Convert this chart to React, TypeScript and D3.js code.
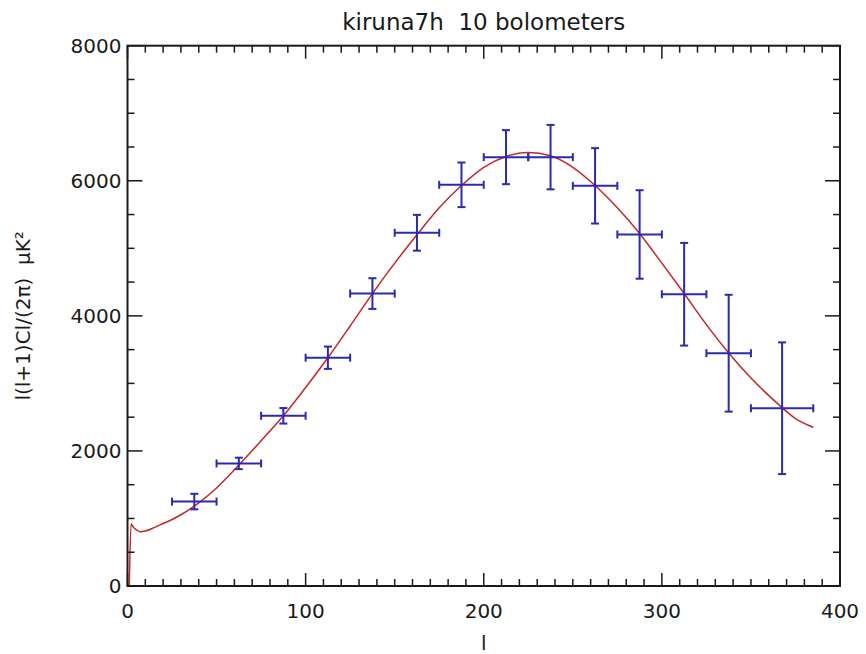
import * as d3 from 'd3'

// binned band powers
const binLo = [25, 50, 75, 100, 125, 150, 175, 200, 225, 250, 275, 300, 325, 350]
const binHi = [50, 75, 100, 125, 150, 175, 200, 225, 250, 275, 300, 325, 350, 385]
const bandPower = [1250, 1815, 2520, 3380, 4330, 5230, 5940, 6350, 6350, 5925, 5205, 4320, 3447, 2632]
const bandError = [115, 85, 115, 165, 227, 265, 330, 400, 477, 558, 655, 760, 865, 975]

// model spectrum
const modelL = [1, 2, 3, 5, 7, 10, 15, 20, 25, 30, 40, 50, 60, 75, 87.5, 100, 112.5, 125, 137.5, 150, 162.5, 175, 187.5, 200, 212.5, 225, 237.5, 250, 262.5, 275, 287.5, 300, 312.5, 325, 337.5, 350, 362.5, 375, 385]
const modelCl = [0, 920, 880, 830, 805, 815, 865, 925, 985, 1055, 1230, 1450, 1720, 2150, 2520, 2940, 3380, 3850, 4330, 4780, 5200, 5600, 5930, 6200, 6360, 6420, 6370, 6200, 5930, 5600, 5220, 4780, 4330, 3870, 3450, 3080, 2760, 2480, 2350]

const xTicks = [0, 100, 200, 300, 400]
const yTicks = [0, 2000, 4000, 6000, 8000]

const W = 866
const H = 654
const left = 127.5, right = 840, top = 45.7, bottom = 586

export default function App() {
  const x = d3.scaleLinear().domain([0, 400]).range([left, right])
  const y = d3.scaleLinear().domain([0, 8000]).range([bottom, top])

  const line = d3.line<number>()
    .x((_, i) => x(modelL[i]))
    .y(d => y(d))
    .curve(d3.curveMonotoneX)

  const xMinor = d3.range(0, 401, 10)
  const yMinor = d3.range(0, 8001, 500)
  const font = 'DejaVu Sans, sans-serif'
  const ink = '#1a1a1a'
  const blue = '#2a2ab0'
  const cap = 4

  return (
    <svg width={W} height={H} style={{ position: 'absolute', left: 0, top: 0, background: '#fff' }}>
      <text x={(left + right) / 2} y={30} textAnchor="middle" fontFamily={font} fontSize={23} fill={ink} style={{ whiteSpace: 'pre' }}>
        {'kiruna7h  10 bolometers'}
      </text>

      {/* model curve */}
      <path d={line(modelCl) || ''} fill="none" stroke="#c0282c" strokeWidth={1.5} />

      {/* band powers with error bars */}
      {bandPower.map((v, i) => {
        const cx = x((binLo[i] + binHi[i]) / 2)
        const cy = y(v)
        const x0 = x(binLo[i]), x1 = x(binHi[i])
        const y0 = y(v - bandError[i]), y1 = y(v + bandError[i])
        return (
          <g key={i} stroke={blue} strokeWidth={2} fill="none">
            <line x1={x0} x2={x1} y1={cy} y2={cy} />
            <line x1={x0} x2={x0} y1={cy - cap} y2={cy + cap} />
            <line x1={x1} x2={x1} y1={cy - cap} y2={cy + cap} />
            <line x1={cx} x2={cx} y1={y0} y2={y1} />
            <line x1={cx - cap} x2={cx + cap} y1={y0} y2={y0} />
            <line x1={cx - cap} x2={cx + cap} y1={y1} y2={y1} />
          </g>
        )
      })}

      {/* frame */}
      <rect x={left} y={top} width={right - left} height={bottom - top} fill="none" stroke={ink} strokeWidth={2} />

      {/* x ticks, bottom and top, pointing inward */}
      {xMinor.map(t => {
        const len = t % 100 === 0 ? 13 : 7
        return (
          <g key={'x' + t} stroke={ink} strokeWidth={1.5}>
            <line x1={x(t)} x2={x(t)} y1={bottom} y2={bottom - len} />
            <line x1={x(t)} x2={x(t)} y1={top} y2={top + len} />
          </g>
        )
      })}
      {yMinor.map(t => {
        const len = t % 2000 === 0 ? 15 : 7
        return (
          <g key={'y' + t} stroke={ink} strokeWidth={1.5}>
            <line x1={left} x2={left + len} y1={y(t)} y2={y(t)} />
            <line x1={right} x2={right - len} y1={y(t)} y2={y(t)} />
          </g>
        )
      })}

      {xTicks.map(t => (
        <text key={'xl' + t} x={x(t)} y={bottom + 32} textAnchor="middle" fontFamily={font} fontSize={20} fill={ink}>
          {t}
        </text>
      ))}
      {yTicks.map(t => (
        <text key={'yl' + t} x={left - 6} y={y(t) + 7} textAnchor="end" fontFamily={font} fontSize={20} fill={ink}>
          {t}
        </text>
      ))}

      <text x={(left + right) / 2} y={650} textAnchor="middle" fontFamily={font} fontSize={20} fill={ink}>l</text>
      <text transform={`translate(30, ${(top + bottom) / 2}) rotate(-90)`} textAnchor="middle" fontFamily={font} fontSize={20} fill={ink} style={{ whiteSpace: 'pre' }}>
        {'l(l+1)Cl/(2π)  μK²'}
      </text>
    </svg>
  )
}
